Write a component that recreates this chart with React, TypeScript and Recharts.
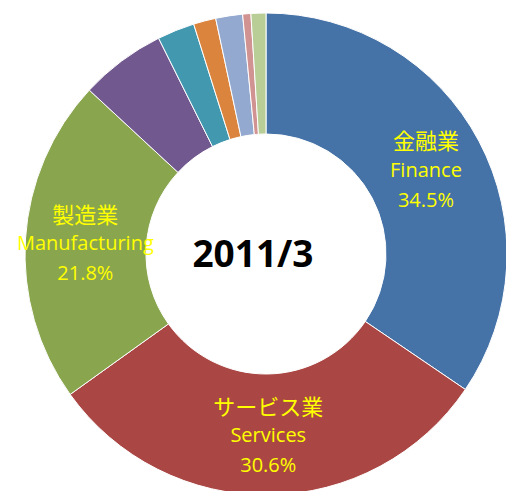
import React from 'react';
import { PieChart, Pie, Cell } from 'recharts';

const namesJa = ['金融業', 'サービス業', '製造業', '', '', '', '', '', ''];
const namesEn = ['Finance', 'Services', 'Manufacturing', '', '', '', '', '', ''];
const shares = [34.5, 30.6, 21.8, 5.75, 2.5, 1.5, 1.8, 0.55, 1.0];
const colors = ['#4572A7', '#AA4643', '#89A54E', '#71588F', '#4198AF', '#DB843D', '#93A9CF', '#D19392', '#B9CD96'];
const centerTitle = '2011/3';

const data = shares.map((v, i) => ({ ja: namesJa[i], en: namesEn[i], value: v }));

const RAD = Math.PI / 180;

const renderLabel = (props: any) => {
  const { cx, cy, midAngle, index } = props;
  const d = data[index];
  if (!d.en) return null;
  const r = 181;
  const x = cx + r * Math.cos(-midAngle * RAD);
  const y = cy + r * Math.sin(-midAngle * RAD);
  const font = '"Open Sans", "Noto Sans CJK JP", sans-serif';
  return (
    <g>
      {index === 0 && (
        <text
          x={cx - 13}
          y={cy - 2}
          textAnchor="middle"
          dominantBaseline="central"
          fontSize={37}
          fontWeight="bold"
          fontFamily={'"Open Sans", sans-serif'}
          fill="#000"
        >
          {centerTitle}
        </text>
      )}
      <text x={x} y={y - 30} fill="#FFFF00" textAnchor="middle" dominantBaseline="central" fontSize={22} fontFamily={'"Noto Sans CJK JP", sans-serif'}>
        {d.ja}
      </text>
      <text x={x} y={y} fill="#FFFF00" textAnchor="middle" dominantBaseline="central" fontSize={20} fontFamily={font}>
        {d.en}
      </text>
      <text x={x} y={y + 30} fill="#FFFF00" textAnchor="middle" dominantBaseline="central" fontSize={20} fontFamily={font}>
        {d.value.toFixed(1) + '%'}
      </text>
    </g>
  );
};

export default function App() {
  return (
    <div style={{ position: 'absolute', left: 0, top: 0, width: 506, height: 491, background: '#fff' }}>
      <PieChart width={506} height={491} margin={{ top: 0, right: 0, bottom: 0, left: 0 }}>
        <Pie
          data={data}
          dataKey="value"
          cx={266}
          cy={254}
          innerRadius={120}
          outerRadius={241}
          startAngle={90}
          endAngle={-270}
          stroke="#ffffff"
          strokeWidth={1}
          label={renderLabel}
          labelLine={false}
          isAnimationActive={false}
        >
          {data.map((_, i) => (
            <Cell key={i} fill={colors[i]} />
          ))}
        </Pie>
      </PieChart>
    </div>
  );
}
